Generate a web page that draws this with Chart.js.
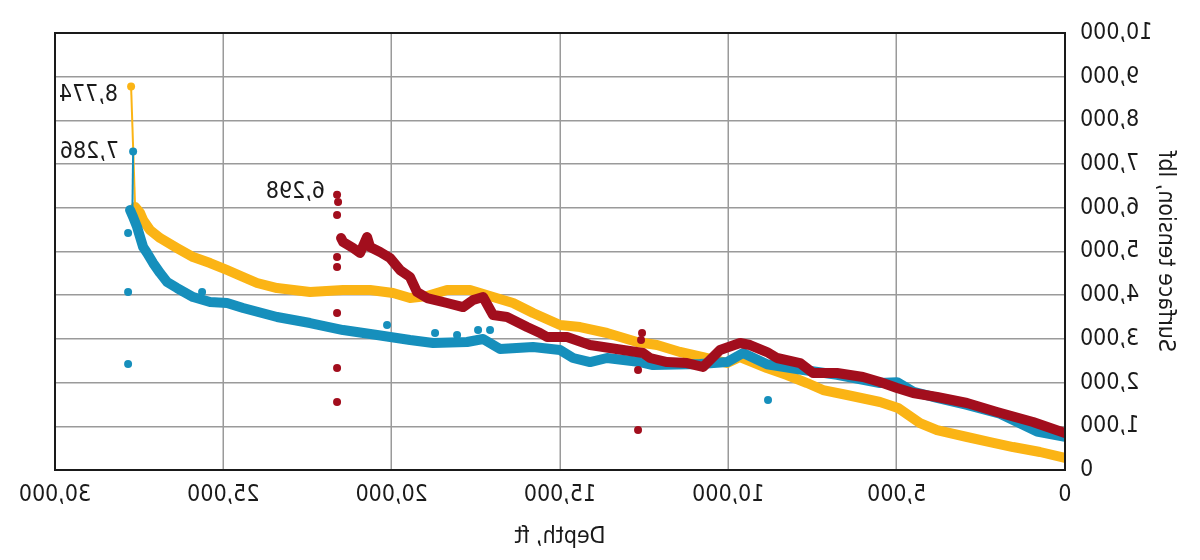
<!DOCTYPE html>
<html>
<head>
<meta charset="utf-8">
<script src="https://cdn.jsdelivr.net/npm/chart.js@4.4.1/dist/chart.umd.min.js"></script>
<style>
  html, body { margin: 0; padding: 0; background: #fff; }
  #wrap { width: 1200px; height: 560px; position: relative; }
  /* the reference picture is mirrored left-right */
  #chart { transform: scaleX(-1); }
</style>
</head>
<body>
<div id="wrap"><canvas id="chart"></canvas></div>
<script>
/* ---------- data (depth ft, surface tension lbf) ---------- */
const yellowDepth   = [0,743,1544,2228,2911,3802,4307,4960,5495,6475,7187,7663,8257,8851,9653,10039,10751,11435,12118,12712,13603,14405,14999,15800,16394,16988,17672,18355,18949,19454,19958,20642,21443,22424,23404,23998,24413,24889,25394,25898,26374,26878,27176,27383,27473,27621];
const yellowTension = [275,412,526,640,755,915,1075,1419,1556,1716,1830,1990,2174,2334,2585,2448,2585,2700,2860,2929,3135,3272,3318,3592,3821,3958,4118,4118,3981,3935,4050,4118,4118,4073,4164,4279,4416,4576,4736,4873,5079,5308,5491,5720,5880,6017];
const yellowSpikeDepth   = [27621, 27740];
const yellowSpikeTension = [6017, 8774];

const blueDepth   = [0,832,1931,2911,3802,4500,4990,5495,6772,7871,8851,9563,10039,10841,12236,12623,13603,14108,14612,14999,15800,16781,17285,17761,18770,19454,20434,21443,22424,23404,24413,24889,25394,25898,26374,26671,26878,27086,27265,27383,27473,27562,27680,27770];
const blueTension = [760,880,1290,1490,1650,1790,2010,1990,2180,2300,2420,2677,2471,2425,2402,2471,2563,2471,2563,2746,2814,2768,2997,2929,2906,2974,3089,3203,3363,3501,3707,3821,3844,3958,4164,4301,4507,4736,4965,5102,5331,5560,5789,5949];
const blueSpikeDepth   = [27700, 27680];
const blueSpikeTension = [6000, 7286];
const blueOutDepth   = [27829,27829,27829,25631,20137,8821,18711,18058,17434,17078];
const blueOutTension = [5423,4073,2425,4073,3318,1602,3135,3089,3203,3203];

const redDepth   = [0,950,2020,2911,3802,4514,4990,5495,5999,6772,7484,7871,8554,8851,9356,9653,10247,10751,11227,11821,12326,12533,13127,14108,14791,15385,15593,15979,16573,16988,17285,17582,17879,18355,18949,19246,19454,19751,20048,20345,20642,20731,20939,21146,21443,21503];
const redTension = [847,1098,1327,1533,1670,1762,1876,2013,2128,2219,2219,2448,2563,2700,2860,2906,2746,2357,2448,2471,2563,2677,2746,2860,3043,3043,3135,3272,3501,3547,3958,3890,3729,3821,3935,4073,4416,4576,4851,4988,5102,5331,4965,5079,5217,5308];
const redOutDepth   = [21622,21592,21622,21622,21622,21622,21622,21622,12682,12682,12563,12593];
const redOutTension = [6298,6132,5834,4873,4645,3592,2334,1556,2288,915,3135,2974];

const depthMax = 30000, depthStep = 5000;
const tensionMax = 10000, tensionStep = 1000;

const COLORS = { yellow:'#FBB415', blue:'#168FBC', red:'#A20E1D', ink:'#1a1a1a', grid:'#9a9a9a' };
const FONT = "'Liberation Sans Narrow', 'DejaVu Sans Condensed', 'Arial Narrow', sans-serif";

const pts = (xs, ys) => xs.map((x, i) => ({ x, y: ys[i] }));

// lower `order` is painted on top: red over blue over yellow
function band(data, color, order) {
  return { data, order, borderColor: color, backgroundColor: color, borderWidth: 10,
           borderJoinStyle: 'round', borderCapStyle: 'round', pointRadius: 0, showLine: true };
}
function spike(data, color, order) {
  return { data, order, borderColor: color, backgroundColor: color, borderWidth: 2,
           pointRadius: [0, 4], pointBorderWidth: 0, showLine: true };
}
function dots(data, color, order) {
  return { data, order, borderColor: color, backgroundColor: color, pointRadius: 4,
           pointBorderWidth: 0, showLine: false };
}

const datasets = [
  band(pts(yellowDepth, yellowTension), COLORS.yellow, 5),            // 0
  spike(pts(yellowSpikeDepth, yellowSpikeTension), COLORS.yellow, 4), // 1
  band(pts(blueDepth, blueTension), COLORS.blue, 3),                  // 2
  spike(pts(blueSpikeDepth, blueSpikeTension), COLORS.blue, 2),       // 3
  dots(pts(blueOutDepth, blueOutTension), COLORS.blue, 0),            // 4
  band(pts(redDepth, redTension), COLORS.red, 1),                     // 5
  dots(pts(redOutDepth, redOutTension), COLORS.red, 0),               // 6
];

// peak value labels: dataset index, point index, text offset
const PEAKS = [
  { ds: 1, idx: 1, dx: 13, dy: 8 },
  { ds: 3, idx: 1, dx: 14, dy: 0 },
  { ds: 6, idx: 0, dx: 12, dy: -3 },
];

const framePlugin = {
  id: 'frame',
  afterDatasetsDraw(chart) {
    const { ctx, chartArea: a } = chart;
    ctx.save();
    ctx.strokeStyle = COLORS.ink;
    ctx.lineWidth = 2;
    ctx.strokeRect(a.left, a.top, a.right - a.left, a.bottom - a.top);
    ctx.restore();
  }
};

const peakLabelPlugin = {
  id: 'peakLabels',
  afterDatasetsDraw(chart) {
    const { ctx } = chart;
    ctx.save();
    ctx.font = `23px ${FONT}`;
    ctx.fillStyle = COLORS.ink;
    ctx.textAlign = 'left';
    ctx.textBaseline = 'middle';
    PEAKS.forEach(p => {
      const el = chart.getDatasetMeta(p.ds).data[p.idx];
      const v = chart.data.datasets[p.ds].data[p.idx].y;
      ctx.fillText(v.toLocaleString('en-US'), el.x + p.dx, el.y + p.dy);
    });
    ctx.restore();
  }
};

Chart.defaults.font.family = FONT;
Chart.defaults.font.size = 23;
Chart.defaults.color = COLORS.ink;

new Chart(document.getElementById('chart'), {
  type: 'scatter',
  data: { datasets },
  options: {
    responsive: true, maintainAspectRatio: false, animation: false,
    layout: { padding: { left: 0, right: 55, top: 33, bottom: 0 } },
    plugins: { legend: { display: false }, tooltip: { enabled: false } },
    scales: {
      x: {
        type: 'linear', min: 0, max: depthMax,
        ticks: { stepSize: depthStep, padding: 11 },
        grid: { color: COLORS.grid, lineWidth: 1.5, drawTicks: false },
        border: { color: COLORS.ink, width: 2 },
        title: { display: true, text: 'Depth, ft', padding: { top: 0, bottom: 9 } },
        afterFit: s => { s.height = 90; },
      },
      y: {
        type: 'linear', min: 0, max: tensionMax,
        ticks: { stepSize: tensionStep, padding: 15 },
        grid: { color: COLORS.grid, lineWidth: 1.5, drawTicks: false },
        border: { color: COLORS.ink, width: 2 },
        title: { display: true, text: 'Surface tension, lbf', padding: { top: 21, bottom: 0 } },
        afterFit: s => { s.width = 135; },
      },
    },
  },
  plugins: [framePlugin, peakLabelPlugin],
});
</script>
</body>
</html>
